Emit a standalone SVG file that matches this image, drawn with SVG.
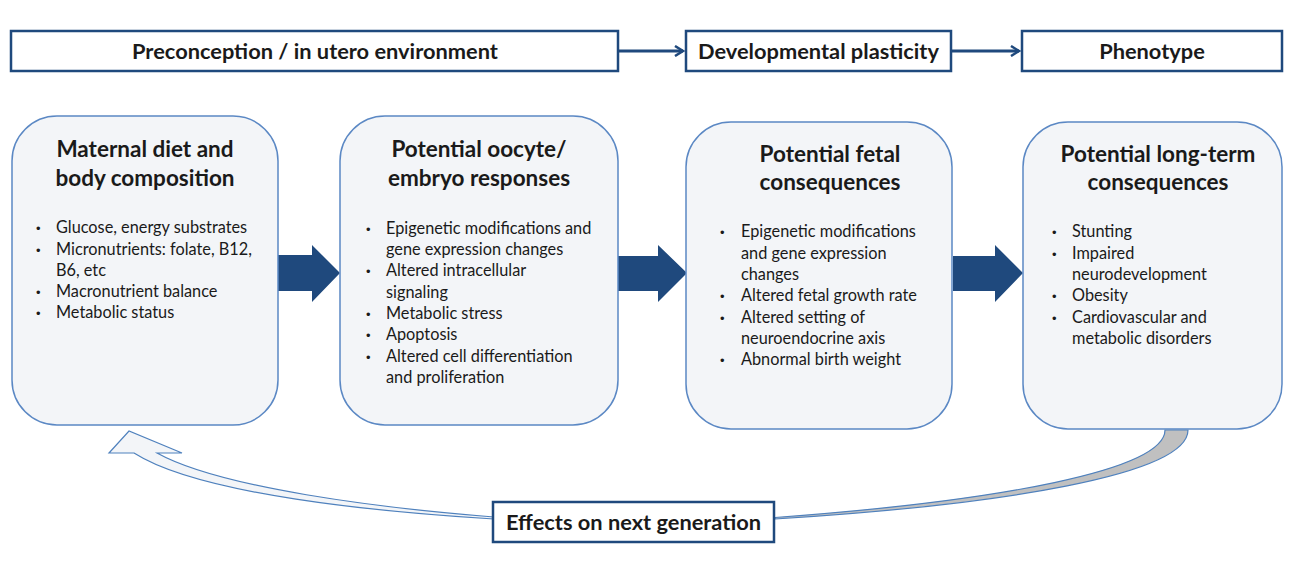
<svg xmlns="http://www.w3.org/2000/svg" width="1311" height="561" viewBox="0 0 1311 561">
<defs>
<style>
.hdr{fill:#fff;stroke:#1f497d;stroke-width:2.5}
.card{fill:#f3f5f8;stroke:#5b88c4;stroke-width:1.5}
.ht{font-family:Lato,"Liberation Sans",sans-serif;font-weight:bold;font-size:21.8px;fill:#1a1a1a;text-anchor:middle}
.tt{font-family:Lato,"Liberation Sans",sans-serif;font-weight:bold;font-size:22.5px;fill:#1a1a1a;text-anchor:middle}
.bt{font-family:Lato,"Liberation Sans",sans-serif;font-size:16.3px;fill:#1a1a1a}
.bl{font-family:"Liberation Sans",sans-serif;font-size:13px;fill:#1a1a1a}
.conn{stroke:#1f497d;stroke-width:3;fill:none}
.block{fill:#1f497d}
</style>
<marker id="chev" viewBox="0 0 12 12" refX="10" refY="6" markerWidth="12" markerHeight="12" markerUnits="userSpaceOnUse" orient="auto">
<polyline points="2,1 10,6 2,11" fill="none" stroke="#1f497d" stroke-width="2.5"/>
</marker>
</defs>

<g id="connectors">
<line class="conn" x1="619" y1="51" x2="683" y2="51" marker-end="url(#chev)"/>
<line class="conn" x1="952" y1="51" x2="1019" y2="51" marker-end="url(#chev)"/>
<polygon class="block" points="278,255 312,255 312,245 340,273 312,302 312,291 278,291"/>
<polygon class="block" points="618,256 658,256 658,245 687,273 658,302 658,291 618,291"/>
<polygon class="block" points="953,256 995,256 995,245 1023,273 995,302 995,291 953,291"/>
<path d="M1165,430 L1188,430 C1188,475 1000,505 775,519 L775,517.5 C1000,501 1165,470 1165,430 Z" fill="#c0c0c0" stroke="#4f81bd" stroke-width="1.2"/>
<path d="M494,519 C380,512 200,495 134,453 L109,453 L129,431 L182,453 L157,453 C220,488 380,508 494,517 Z" fill="#f3f5f8" stroke="#4f81bd" stroke-width="1.2"/>
</g>

<g id="preconception">
<rect class="hdr" x="11" y="31" width="607" height="40"/>
<text class="ht" x="315" y="58.5">Preconception / in utero environment</text>
</g>
<g id="plasticity">
<rect class="hdr" x="686" y="31" width="265" height="40"/>
<text class="ht" x="818.5" y="58.5">Developmental plasticity</text>
</g>
<g id="phenotype">
<rect class="hdr" x="1022" y="31" width="260" height="40"/>
<text class="ht" x="1152" y="58.5">Phenotype</text>
</g>

<g id="maternal">
<rect class="card" x="12" y="116" width="266" height="309" rx="45"/>
<text class="tt" x="145" y="157">Maternal diet and</text>
<text class="tt" x="145" y="186">body composition</text>
<g class="bl"><text x="36" y="233">•</text><text x="36" y="254.5">•</text><text x="36" y="297">•</text><text x="36" y="318">•</text></g>
<g class="bt">
<text x="56" y="233">Glucose, energy substrates</text>
<text x="56" y="254.5">Micronutrients: folate, B12,</text>
<text x="56" y="276">B6, etc</text>
<text x="56" y="297">Macronutrient balance</text>
<text x="56" y="318">Metabolic status</text>
</g>
</g>

<g id="oocyte">
<rect class="card" x="340" y="116" width="278" height="309" rx="45"/>
<text class="tt" x="479" y="157">Potential oocyte/</text>
<text class="tt" x="479" y="186">embryo responses</text>
<g class="bl"><text x="366" y="233.5">•</text><text x="366" y="276">•</text><text x="366" y="319">•</text><text x="366" y="340">•</text><text x="366" y="361.5">•</text></g>
<g class="bt">
<text x="386" y="233.5">Epigenetic modifications and</text>
<text x="386" y="255">gene expression changes</text>
<text x="386" y="276">Altered intracellular</text>
<text x="386" y="297.5">signaling</text>
<text x="386" y="319">Metabolic stress</text>
<text x="386" y="340">Apoptosis</text>
<text x="386" y="361.5">Altered cell differentiation</text>
<text x="386" y="383">and proliferation</text>
</g>
</g>

<g id="fetal">
<rect class="card" x="686" y="122" width="266" height="307" rx="45"/>
<text class="tt" x="830" y="162">Potential fetal</text>
<text class="tt" x="830" y="190">consequences</text>
<g class="bl"><text x="720" y="237">•</text><text x="720" y="301">•</text><text x="720" y="322.5">•</text><text x="720" y="365">•</text></g>
<g class="bt">
<text x="741" y="237">Epigenetic modifications</text>
<text x="741" y="258.5">and gene expression</text>
<text x="741" y="280">changes</text>
<text x="741" y="301">Altered fetal growth rate</text>
<text x="741" y="322.5">Altered setting of</text>
<text x="741" y="344">neuroendocrine axis</text>
<text x="741" y="365">Abnormal birth weight</text>
</g>
</g>

<g id="longterm">
<rect class="card" x="1023" y="122" width="259" height="307" rx="45"/>
<text class="tt" x="1158" y="162">Potential long-term</text>
<text class="tt" x="1158" y="190">consequences</text>
<g class="bl"><text x="1052" y="237">•</text><text x="1052" y="258.5">•</text><text x="1052" y="301">•</text><text x="1052" y="322.5">•</text></g>
<g class="bt">
<text x="1072" y="237">Stunting</text>
<text x="1072" y="258.5">Impaired</text>
<text x="1072" y="280">neurodevelopment</text>
<text x="1072" y="301">Obesity</text>
<text x="1072" y="322.5">Cardiovascular and</text>
<text x="1072" y="344">metabolic disorders</text>
</g>
</g>

<g id="nextgen">
<rect class="hdr" x="493" y="502" width="281" height="40"/>
<text class="ht" x="633.5" y="529.5">Effects on next generation</text>
</g>
</svg>
